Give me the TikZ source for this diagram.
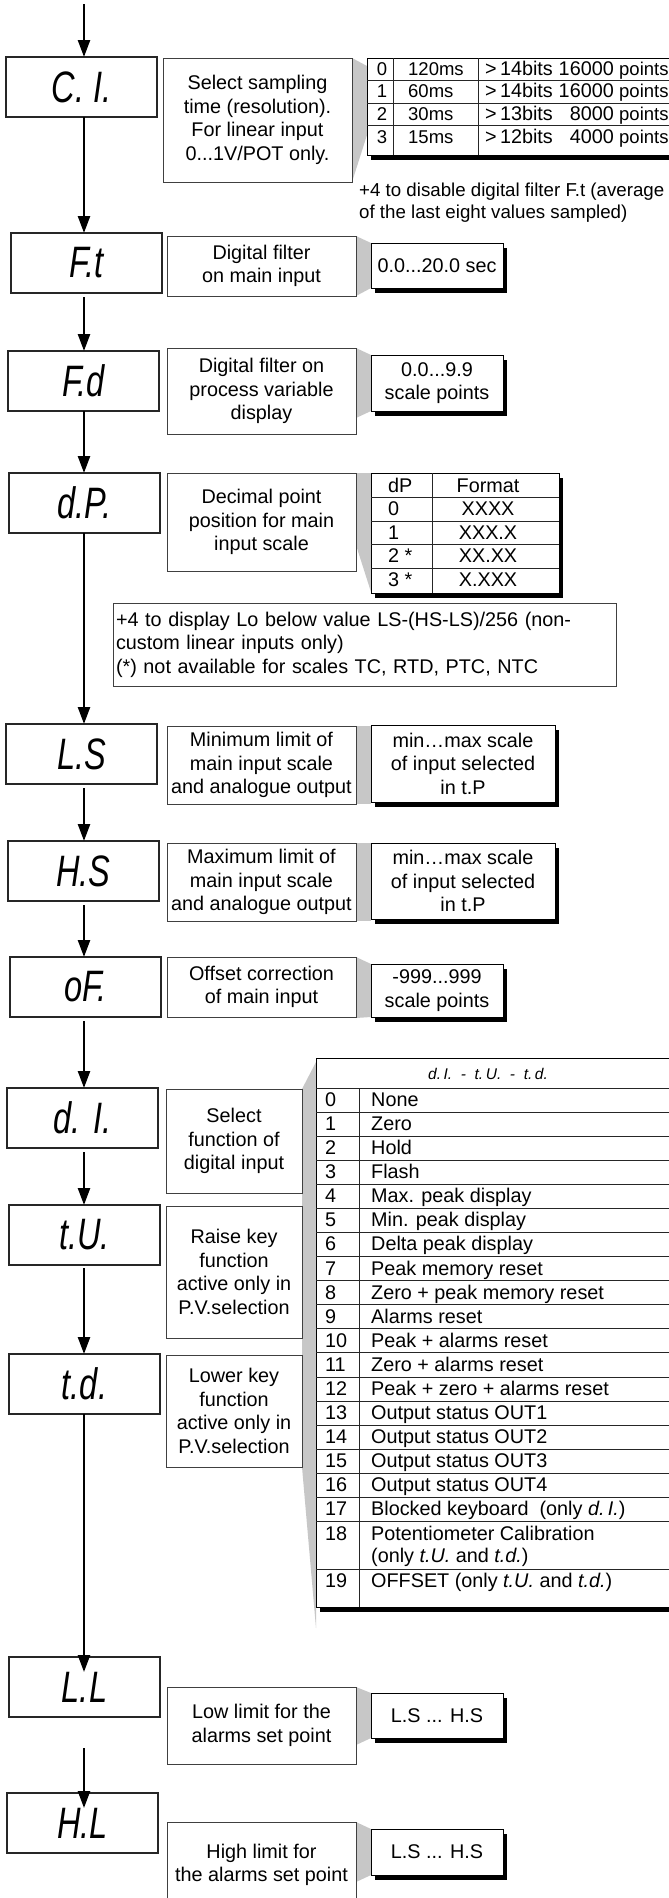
\documentclass[tikz,border=0pt]{standalone}
\usepackage{graphicx}
\usepackage{fontspec}
\setmainfont{Liberation Sans}
\usetikzlibrary{arrows.meta,shadows}
\pgfdeclarelayer{background}
\pgfsetlayers{background,main}
\newcommand{\segtxt}[1]{\scalebox{0.74}[1]{\itshape #1}}
\newcommand{\fdesc}{\fontsize{19.8}{23.5}\selectfont}
\newcommand{\ftab}{\fontsize{18.5}{22.5}\selectfont}
\newcommand{\fnote}{\fontsize{18.7}{21.5}\selectfont}
\newcommand{\fseg}{\fontsize{44}{44}\selectfont}
\newcommand{\fsegsm}{\fontsize{15.5}{15.5}\selectfont}
\begin{document}
\begin{tikzpicture}[x=1pt,y=-1pt,
  disp/.style={draw=black!85,line width=1.3pt,fill=white,inner sep=0pt,outer sep=0pt,anchor=north west,minimum width=151pt,minimum height=60pt,font=\fseg},
  desc/.style={draw=black!75,line width=0.9pt,fill=white,inner sep=2pt,outer sep=0pt,anchor=north west,align=center,font=\fdesc},
  shad/.style={drop shadow={shadow xshift=4pt,shadow yshift=-5pt,opacity=1,fill=black}},
  val/.style={desc,draw=black,shad},
  frame/.style={draw=black,line width=0.9pt,fill=white,inner sep=0pt,outer sep=0pt,anchor=north west,shad},
  rule/.style={draw=black!85,line width=0.8pt},
  wedge/.style={fill=black!22},
  arr/.style={line width=2.4pt,-{Triangle[length=17pt,width=12pt]}},
  cell/.style={inner sep=0pt,anchor=base west,font=\fdesc},
  ccell/.style={inner sep=0pt,anchor=base,font=\fdesc},
  scell/.style={inner sep=0pt,anchor=base west,font=\ftab}]
\useasboundingbox (0,0) rectangle (669,1898);

% background and grey callout wedges
\begin{pgfonlayer}{background}
\fill[white] (0,0) rectangle (669,1898);
\fill[wedge] (352,58) -- (367,66) -- (367,135) -- (352,182) -- cycle;
\fill[wedge] (356,236) -- (371,243) -- (371,288) -- (356,296) -- cycle;
\fill[wedge] (356,348) -- (371,355) -- (371,411) -- (356,418) -- cycle;
\fill[wedge] (356,473) -- (371,473) -- (371,592) -- (356,545) -- cycle;
\fill[wedge] (356,726) rectangle (371,804);
\fill[wedge] (356,843) rectangle (371,921);
\fill[wedge] (356,957) -- (371,964) -- (371,1017) -- (356,1018) -- cycle;
\fill[wedge] (302,1089) -- (316,1062) -- (316,1628) -- (302,1467) -- cycle;
\fill[wedge] (356,1687) -- (371,1693) -- (371,1738) -- (356,1745) -- cycle;
\fill[wedge] (356,1822) -- (371,1829) -- (371,1875) -- (356,1882) -- cycle;
\end{pgfonlayer}

% display boxes
\node[disp] (CI) at (6,57) {\segtxt{C. I.}};
\node[disp] (Ft) at (11,233) {\segtxt{F.t}};
\node[disp] (Fd) at (8,351) {\segtxt{F.d}};
\node[disp] (dP) at (9,473) {\segtxt{d.P.}};
\node[disp] (LS) at (6,724) {\segtxt{L.S}};
\node[disp] (HS) at (8,841) {\segtxt{H.S}};
\node[disp] (oF) at (10,957) {\segtxt{oF.}};
\node[disp] (dI) at (7,1088) {\segtxt{d. I.}};
\node[disp] (tU) at (9,1205) {\segtxt{t.U.}};
\node[disp] (td) at (9,1354) {\segtxt{t.d.}};
\node[disp] (LL) at (9,1657) {\segtxt{L.L}};
\node[disp] (HL) at (7,1793) {\segtxt{H.L}};

% description boxes
\node[desc,minimum width=189pt,minimum height=124pt] (CIdesc) at (163,58) {Select sampling\\time (resolution).\\For linear input\\0...1V/POT only.};
\node[desc,minimum width=189pt,minimum height=60pt] (Ftdesc) at (167,236) {Digital filter\\on main input};
\node[desc,minimum width=189pt,minimum height=86pt] (Fddesc) at (167,348) {Digital filter on\\process variable\\display};
\node[desc,minimum width=189pt,minimum height=98pt] (dPdesc) at (167,473) {Decimal point\\position for main\\input scale};
\node[desc,minimum width=189pt,minimum height=78pt] (LSdesc) at (167,726) {Minimum limit of\\main input scale\\and analogue output};
\node[desc,minimum width=189pt,minimum height=78pt] (HSdesc) at (167,843) {Maximum limit of\\main input scale\\and analogue output};
\node[desc,minimum width=189pt,minimum height=60pt] (oFdesc) at (167,957) {Offset correction\\of main input};
\node[desc,minimum width=136pt,minimum height=104pt] (dIdesc) at (166,1089) {Select\\function of\\digital input};
\node[desc,minimum width=136pt,minimum height=132pt] (tUdesc) at (166,1206) {Raise key\\function\\active only in\\P.V.selection};
\node[desc,minimum width=136pt,minimum height=112pt] (tddesc) at (166,1355) {Lower key\\function\\active only in\\P.V.selection};
\node[desc,minimum width=189pt,minimum height=77pt] (LLdesc) at (167,1687) {Low limit for the\\alarms set point};
\node[desc,minimum width=189pt,minimum height=86pt] (HLdesc) at (167,1822) {High limit for\\the alarms set point};

% value boxes
\node[val,minimum width=132pt,minimum height=45pt] (Ftval) at (371,243) {0.0...20.0 sec};
\node[val,minimum width=132pt,minimum height=56pt] (Fdval) at (371,355) {0.0...9.9\\scale points};
\node[val,minimum width=184pt,minimum height=77pt] (LSval) at (371,725) {min…max scale\\of input selected\\in t.P};
\node[val,minimum width=184pt,minimum height=76pt] (HSval) at (371,843) {min…max scale\\of input selected\\in t.P};
\node[val,minimum width=132pt,minimum height=53pt] (oFval) at (371,964) {-999...999\\scale points};
\node[val,minimum width=132pt,minimum height=45pt] (LLval) at (371,1693) {L.S ... H.S};
\node[val,minimum width=132pt,minimum height=46pt] (HLval) at (371,1829) {L.S ... H.S};

% sampling time table
\node[frame,minimum width=303pt,minimum height=97pt] (CItab) at (367,58) {};
\draw[rule] (367,80) -- (670,80) (367,103) -- (670,103) (367,125) -- (670,125);
\draw[rule] (393,58) -- (393,155) (478,58) -- (478,155);
\foreach \ra/\rb/\rc/\rd [count=\k from 0] in {0/120ms/14bits/16000,1/60ms/14bits/16000,2/30ms/13bits/8000,3/15ms/12bits/4000}{
  \pgfmathsetmacro{\yb}{75+22.7*\k}
  \node[scell,anchor=base] (ca\k) at (382,\yb) {\ra};
  \node[scell] (cb\k) at (408,\yb) {\rb};
  \node[scell,font=\fdesc] (cc\k) at (485,\yb) {>\,\rc};
  \node[scell,anchor=base east,font=\fdesc] (cd\k) at (614,\yb) {\rd};
  \node[scell] (ce\k) at (619,\yb) {points};
}
\node[inner sep=0pt,anchor=north west,align=left,font=\fnote] (CInote) at (359,183) {+4 to disable digital filter F.t (average\\of the last eight values sampled)};

% decimal point table
\node[frame,minimum width=188pt,minimum height=120pt] (dPtab) at (371,473) {};
\draw[rule] (371,497) -- (559,497) (371,521) -- (559,521) (371,544) -- (559,544) (371,568) -- (559,568);
\draw[rule] (432,473) -- (432,593);
\foreach \ra/\rb [count=\k from 0] in {dP/Format,0/XXXX,1/XXX.X,2 */XX.XX,3 */X.XXX}{
  \pgfmathsetmacro{\yb}{492+23.5*\k}
  \node[cell] (pa\k) at (388,\yb) {\ra};
  \node[ccell] (pb\k) at (488,\yb) {\rb};
}
\node[desc,align=left,text width=497pt,minimum width=503pt,minimum height=83pt,inner sep=3pt] (note) at (113,603) {+4 to display Lo below value LS-(HS-LS)/256 (non-\\custom linear inputs only)\\(*) not available for scales TC, RTD, PTC, NTC};

% digital input function table
\node[frame,minimum width=354pt,minimum height=549pt] (bigtab) at (316,1058) {};
\draw[rule] (316,1088) -- (670,1088);
\node[inner sep=0pt,font=\fsegsm] (bighead) at (488,1074) {\itshape d.\,I.\ \ -\ \ t.\,U.\ \ -\ \ t.\,d.};
\foreach \k in {1,...,18}{\draw[rule] (316,{1088+24.08*\k}) -- (670,{1088+24.08*\k});}
\draw[rule] (316,1569) -- (670,1569);
\draw[rule] (359,1088) -- (359,1607);
\foreach \ra/\rb [count=\k from 0] in {0/None,1/Zero,2/Hold,3/Flash,4/Max. peak display,5/Min. peak display,6/Delta peak display,7/Peak memory reset,8/Zero + peak memory reset,9/Alarms reset,10/Peak + alarms reset,11/Zero + alarms reset,12/Peak + zero + alarms reset,13/Output status OUT1,14/Output status OUT2,15/Output status OUT3,16/Output status OUT4,17/{Blocked keyboard\ \ (only \textit{d.\,I.})}}{
  \pgfmathsetmacro{\yb}{1088+24.08*\k+18.5}
  \node[cell] (bn\k) at (325,\yb) {\ra};
  \node[cell] (bt\k) at (371,\yb) {\rb};
}
\node[cell] (bn18) at (325,1540.5) {18};
\node[cell] (bt18) at (371,1540.5) {Potentiometer Calibration};
\node[cell] (bt18b) at (371,1562) {(only \textit{t.U.} and \textit{t.d.})};
\node[cell] (bn19) at (325,1587) {19};
\node[cell] (bt19) at (371,1587) {OFFSET (only \textit{t.U.} and \textit{t.d.})};

% main flow arrows
\coordinate (top) at (84,4);
\draw[arr] (top) -- (CI.north -| top);
\draw[arr] (CI.south -| top) -- (Ft.north -| top);
\draw[arr,shorten <=4pt] (Ft.south -| top) -- (Fd.north -| top);
\draw[arr] (Fd.south -| top) -- (dP.north -| top);
\draw[arr] (dP.south -| top) -- (LS.north -| top);
\draw[arr,shorten <=4pt] (LS.south -| top) -- (HS.north -| top);
\draw[arr,shorten <=4pt] (HS.south -| top) -- (oF.north -| top);
\draw[arr,shorten <=4pt] (oF.south -| top) -- (dI.north -| top);
\draw[arr,shorten <=4pt] (dI.south -| top) -- (tU.north -| top);
\draw[arr,shorten <=3pt] (tU.south -| top) -- (td.north -| top);
\draw[arr,shorten >=-15pt] (td.south -| top) -- (LL.north -| top);
\draw[arr,shorten <=31pt,shorten >=-15pt] (LL.south -| top) -- (HL.north -| top);
\end{tikzpicture}
\end{document}
